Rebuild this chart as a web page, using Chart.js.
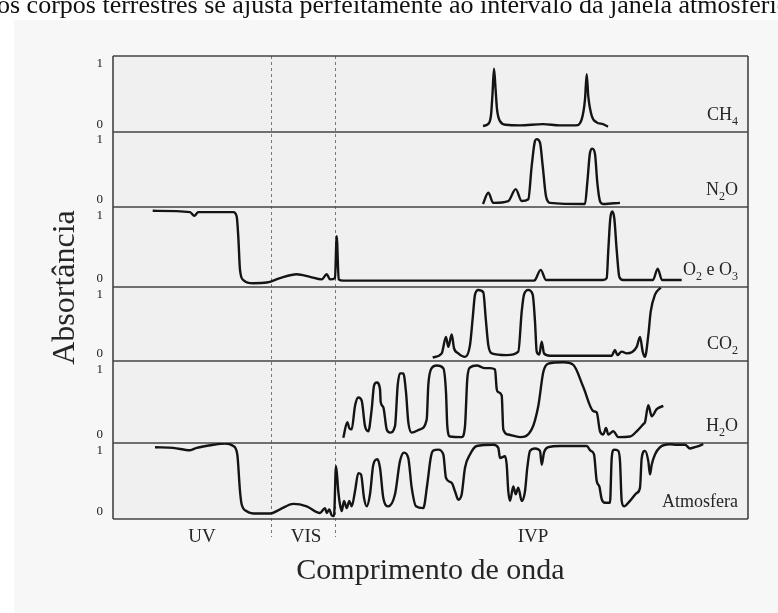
<!DOCTYPE html>
<html lang="pt">
<head>
<meta charset="utf-8">
<title>Absortância</title>
<script src="https://cdn.jsdelivr.net/npm/chart.js@4.4.1/dist/chart.umd.min.js"></script>
<style>
  html, body { margin: 0; padding: 0; background: #fff; }
  #wrap { position: relative; width: 778px; height: 613px; overflow: hidden; }
  #topo { position: absolute; left: -3px; top: -8px; font: 26px/26px "Liberation Serif", serif; color: #111; white-space: nowrap; }
  canvas { position: absolute; left: 0; top: 0; }
</style>
</head>
<body>
<div id="wrap">
  <canvas id="grafico" width="778" height="613"></canvas>
  <div id="topo">os corpos terrestres se ajusta perfeitamente ao intervalo da janela atmosférica</div>
</div>
<script>
// x = comprimento de onda (unidades arbitrárias), y = absortância
const ch4X = [370, 375, 378, 379.5, 381, 382.5, 384, 387, 393, 407, 430, 447, 463, 468.7, 472, 473.7, 475.3, 478.7, 483.7, 490, 495];
const ch4Y = [-0.03, 0.0, 0.15, 0.5, 0.92, 0.6, 0.25, 0.05, -0.01, -0.02, 0.0, -0.02, -0.02, 0.08, 0.41, 0.83, 0.46, 0.14, 0.03, 0.0, -0.04];

const n2oX = [370, 375.3, 380.3, 395.3, 402.7, 408.7, 415.3, 418.7, 422, 423.7, 427, 429.7, 433, 437, 472, 474.3, 477, 479.3, 482, 484.3, 487, 490.3, 507];
const n2oY = [-0.08, 0.11, -0.06, -0.03, 0.17, -0.03, 0.0, 0.56, 0.98, 1.01, 0.95, 0.56, 0.05, -0.06, -0.08, 0.28, 0.78, 0.85, 0.76, 0.28, -0.03, -0.08, -0.06];

const o2X = [39.7, 77, 81.3, 85.3, 120.3, 123.7, 125.3, 127, 130.3, 140.3,
	153.7, 167, 183.7, 197, 208.7, 213.7, 217, 222, 223.7, 225.7,
	230.3, 420, 422, 427.7, 433, 490, 493.7, 495.3, 497.3, 499.3,
	501.3, 503.7, 506.3, 510, 540, 544.7, 549, 568.7];
const o2Y = [1.07, 1.05, 0.99, 1.05, 1.05, 0.98, 0.66, 0.14, -0.02, -0.07,
	-0.06, 0.01, 0.07, 0.03, -0.01, 0.07, -0.01, 0.01, 0.67, -0.01,
	-0.03, -0.03, -0.02, 0.14, -0.02, -0.02, 0.01, 0.45, 0.95, 1.06,
	0.95, 0.45, 0.03, -0.02, -0.02, 0.16, -0.02, -0.02];

const co2X = [319.7, 328.7, 333, 335.3, 338.7, 341, 345.3, 352, 357, 359.7,
	362, 365.3, 370.3, 372.7, 375.3, 378.7, 393.7, 405.3, 408.7, 411,
	415.3, 419.7, 422, 423.7, 426.3, 428.7, 431, 437, 498.7, 502,
	504.3, 508.7, 513.7, 523.7, 527, 529.7, 532, 535.3, 537.7, 542, 547.7];
const co2Y = [-0.07, 0.0, 0.28, 0.11, 0.32, 0.09, 0.0, -0.06, 0.14, 0.6,
	1.0, 1.08, 1.04, 0.6, 0.14, 0.0, -0.03, 0.03, 0.71, 1.0,
	1.08, 1.0, 0.54, 0.03, -0.02, 0.2, 0.0, -0.04, -0.04, 0.06,
	-0.03, 0.03, 0.0, 0.11, 0.28, 0.03, -0.06, 0.31, 0.71, 1.0, 1.12];

const h2oX = [230.3, 234.3, 236.3, 238.7, 242, 245.3, 248.7, 252, 255.3, 258.7,
	261, 263.7, 267, 267.7, 270.3, 273.7, 277, 282, 284.7, 287,
	290.3, 293, 295.3, 298.7, 307, 313.7, 315.3, 318.7, 323.7, 330.3,
	333, 334.3, 337, 348.7, 352, 354.3, 357, 363.7, 372, 377,
	382, 383.7, 385.3, 388.7, 390.3, 395.3, 407, 418.7, 425.3, 430.3,
	435.3, 450.3, 460.3, 470.3, 480.3, 483.7, 487, 490.3, 493, 495.3,
	500.3, 505.3, 517, 523.7, 530.3, 532, 535.3, 538.7, 543.7, 550.3];
const h2oY = [-0.05, 0.19, 0.10, 0.08, 0.44, 0.57, 0.52, 0.13, 0.05, 0.39,
	0.75, 0.80, 0.70, 0.50, 0.42, 0.08, 0.03, 0.13, 0.76, 0.94,
	0.94, 0.65, 0.19, 0.03, 0.08, 0.23, 0.76, 1.02, 1.06, 1.02,
	0.65, 0.13, -0.03, -0.04, 0.13, 0.86, 1.03, 1.06, 1.02, 1.02,
	1.0, 0.70, 0.65, 0.60, 0.08, 0.0, -0.04, 0.08, 0.44, 0.96,
	1.09, 1.11, 1.07, 0.73, 0.36, 0.34, 0.05, 0.0, 0.10, 0.0,
	0.05, -0.04, -0.03, 0.05, 0.16, 0.19, 0.45, 0.28, 0.39, 0.44];

const atmX = [42, 60.3, 77, 83.7, 100.3, 112, 120.3, 124.3, 127, 128.7,
	133.7, 143.7, 157, 167, 180.3, 193.7, 207, 212, 213.7, 216.3,
	218.7, 221, 223, 225.3, 227, 228.7, 231, 233.7, 236.3, 238.7,
	242, 245.3, 248, 251, 253.7, 257, 260.3, 264.3, 267, 270.3,
	275.3, 282, 287, 291, 295.3, 298.7, 303, 310.3, 314.3, 317.7,
	320, 325.3, 330.3, 333, 338.7, 342, 345.3, 348.7, 352, 357,
	363.7, 380.3, 385.3, 387, 392, 393.7, 395.3, 397, 400.3, 402.7,
	405.3, 408.7, 412, 414.3, 417, 422, 427, 428.7, 431, 435.3,
	447, 467, 473.7, 477.7, 481, 483.7, 486.3, 488.7, 492, 497,
	498.7, 501, 505.3, 507, 508.7, 511, 517, 523.7, 527, 528.7,
	532, 535.3, 537, 538.7, 542, 547, 557, 563.7, 572, 577,
	583.7, 590.3];
const atmY = [1.06, 1.05, 1.01, 1.05, 1.10, 1.12, 1.08, 0.94, 0.33, 0.11,
	0.0, -0.04, -0.04, 0.03, 0.12, 0.08, -0.03, 0.05, -0.03, 0.03,
	-0.07, -0.08, 0.75, 0.33, 0.11, 0.0, 0.17, 0.05, 0.17, 0.08,
	0.33, 0.63, 0.61, 0.22, 0.08, 0.28, 0.77, 0.86, 0.72, 0.22,
	0.08, 0.28, 0.83, 0.97, 0.88, 0.39, 0.08, 0.05, 0.45, 0.88,
	1.0, 1.02, 0.94, 0.55, 0.47, 0.33, 0.19, 0.28, 0.72, 0.94,
	1.08, 1.10, 1.05, 0.88, 0.91, 0.77, 0.33, 0.17, 0.41, 0.28,
	0.39, 0.17, 0.33, 0.72, 1.0, 1.04, 1.0, 0.77, 0.97, 1.06,
	1.08, 1.08, 1.08, 1.0, 0.94, 0.5, 0.41, 0.2, 0.14, 0.14,
	0.88, 1.02, 1.0, 0.83, 0.17, 0.08, 0.17, 0.3, 0.39, 0.88,
	1.0, 0.83, 0.61, 0.77, 0.94, 1.06, 1.11, 1.1, 1.1, 1.04,
	1.07, 1.11];

const painelNomes = ['CH4', 'N2O', 'O2 e O3', 'CO2', 'H2O', 'Atmosfera'];
const regiaoNomes = ['UV', 'VIS', 'IVP'];
const regiaoCentros = [89, 193, 420];
const regiaoLimites = [158, 222];
const ticksY = [0, 1];

const series = [[ch4X, ch4Y], [n2oX, n2oY], [o2X, o2Y], [co2X, co2Y], [h2oX, h2oY], [atmX, atmY]];
const alturas = [76, 75, 80, 74, 82, 76];
const serif = '"Liberation Serif", "DejaVu Serif", serif';

function pontos(xs, ys) {
	return xs.map((x, i) => ({ x: x, y: ys[i] }));
}

// texto com números em subscrito (CH4, N2O...), alinhado à direita
function textoQuimico(ctx, txt, direita, base, tam) {
	let partes = txt.split('').map(c => ({ c: c, sub: /[0-9]/.test(c) }));
	let larg = 0;
	partes.forEach(p => {
		ctx.font = (p.sub ? Math.round(tam * 0.68) : tam) + 'px ' + serif;
		p.w = ctx.measureText(p.c).width;
		larg += p.w;
	});
	let x = direita - larg;
	ctx.textAlign = 'left';
	ctx.textBaseline = 'alphabetic';
	partes.forEach(p => {
		ctx.font = (p.sub ? Math.round(tam * 0.68) : tam) + 'px ' + serif;
		ctx.fillText(p.c, x, base + (p.sub ? tam * 0.28 : 0));
		x += p.w;
	});
}

const moldura = {
	id: 'moldura',
	beforeDraw(chart) {
		const ctx = chart.ctx;
		const a = chart.chartArea;
		ctx.save();
		ctx.fillStyle = '#ffffff';
		ctx.fillRect(0, 0, chart.width, chart.height);
		ctx.fillStyle = '#f7f7f7';
		ctx.fillRect(14, 20, chart.width - 14, chart.height - 20);
		ctx.fillStyle = '#f0f0f0';
		ctx.fillRect(a.left, a.top, a.right - a.left, a.bottom - a.top);
		ctx.restore();
	},
	beforeDatasetsDraw(chart) {
		const ctx = chart.ctx;
		const a = chart.chartArea;
		const sx = chart.scales.x;
		ctx.save();
		// limites UV / VIS / IVP
		ctx.strokeStyle = '#777';
		ctx.lineWidth = 1;
		ctx.setLineDash([3, 3]);
		regiaoLimites.forEach(v => {
			let px = Math.round(sx.getPixelForValue(v)) + 0.5;
			ctx.beginPath();
			ctx.moveTo(px, a.top);
			ctx.lineTo(px, a.bottom + 18);
			ctx.stroke();
		});
		ctx.setLineDash([]);
		// divisões entre os painéis
		ctx.strokeStyle = '#444';
		ctx.lineWidth = 1.6;
		painelNomes.forEach((n, i) => {
			let s = chart.scales['y' + i];
			ctx.beginPath();
			ctx.moveTo(a.left, s.top);
			ctx.lineTo(a.right, s.top);
			ctx.stroke();
		});
		ctx.beginPath();
		ctx.moveTo(a.left, a.bottom);
		ctx.lineTo(a.right, a.bottom);
		ctx.moveTo(a.left, a.top);
		ctx.lineTo(a.left, a.bottom);
		ctx.moveTo(a.right, a.top);
		ctx.lineTo(a.right, a.bottom);
		ctx.stroke();
		ctx.restore();
	},
	afterDraw(chart) {
		const ctx = chart.ctx;
		const a = chart.chartArea;
		const sx = chart.scales.x;
		ctx.save();
		ctx.fillStyle = '#262626';
		painelNomes.forEach((n, i) => {
			let s = chart.scales['y' + i];
			textoQuimico(ctx, n, a.right - 10, s.bottom - 12, 18);
		});
		ctx.font = '19px ' + serif;
		ctx.textAlign = 'center';
		ctx.textBaseline = 'middle';
		regiaoNomes.forEach((n, i) => {
			ctx.fillText(n, sx.getPixelForValue(regiaoCentros[i]), a.bottom + 18);
		});
		ctx.font = '30px ' + serif;
		ctx.fillText('Comprimento de onda', (a.left + a.right) / 2, 571);
		ctx.font = '32px ' + serif;
		ctx.translate(66, (a.top + a.bottom) / 2);
		ctx.rotate(-Math.PI / 2);
		ctx.fillText('Absortância', 0, 0);
		ctx.restore();
	}
};

window.addEventListener('load', function() {
	let datasets = series.map((s, i) => ({
		label: painelNomes[i],
		data: pontos(s[0], s[1]),
		yAxisID: 'y' + i,
		borderColor: '#141414',
		borderWidth: 2.4,
		pointRadius: 0,
		cubicInterpolationMode: 'monotone',
		fill: false
	}));

	let scales = {
		x: { type: 'linear', display: false, min: 0, max: 635 }
	};
	// os eixos empilhados à esquerda são colocados do último para o primeiro
	for (let i = painelNomes.length - 1; i >= 0; i--) {
		scales['y' + i] = {
			type: 'linear',
			position: 'left',
			stack: 'paineis',
			stackWeight: alturas[i],
			min: -0.13,
			max: 1.13,
			grid: { display: false },
			border: { display: false },
			ticks: {
				color: '#222',
				font: { family: serif, size: 13 },
				padding: 2
			},
			afterBuildTicks: s => { s.ticks = ticksY.map(v => ({ value: v })); },
			afterFit: s => { s.width = 113; }
		};
	}

	const ctx = document.getElementById('grafico').getContext('2d');
	new Chart(ctx, {
		type: 'line',
		data: { datasets: datasets },
		options: {
			responsive: false,
			animation: false,
			devicePixelRatio: 1,
			layout: { padding: { left: 0, top: 56, right: 30, bottom: 94 } },
			scales: scales,
			plugins: {
				legend: { display: false },
				tooltip: { enabled: false }
			}
		},
		plugins: [moldura]
	});
});
</script>
</body>
</html>
